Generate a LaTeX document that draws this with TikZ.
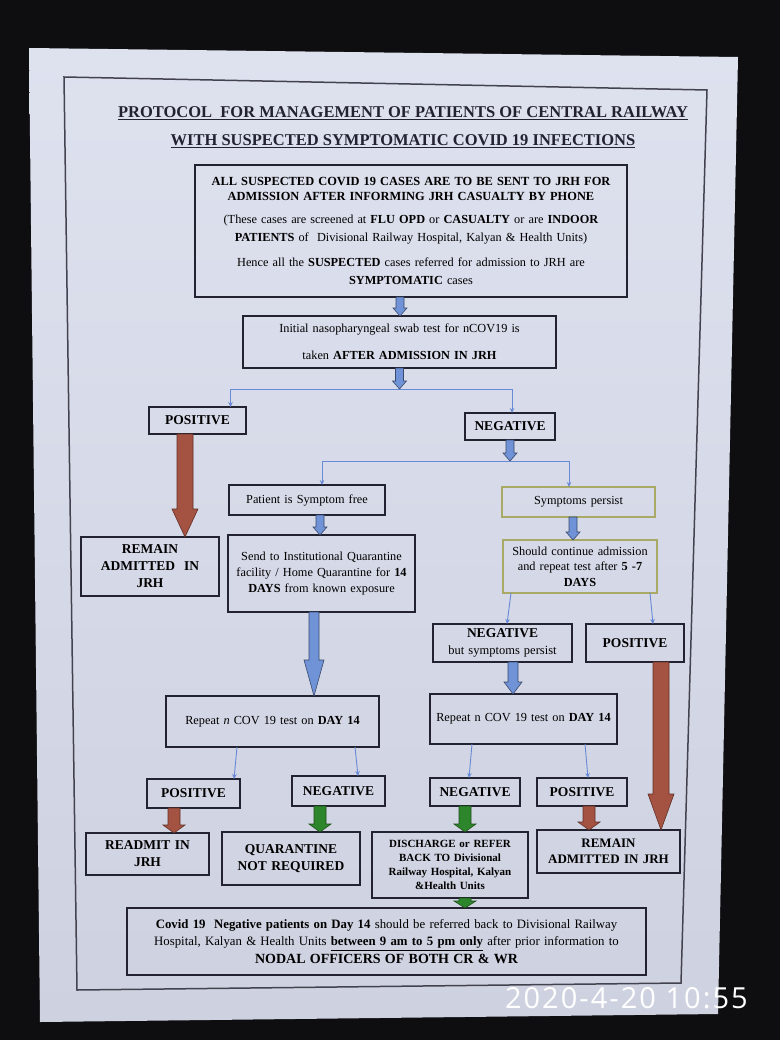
\documentclass[tikz,border=0pt]{standalone}
\usepackage{fontspec}
\setmainfont{Liberation Serif}
\newfontfamily\stampfont[LetterSpace=7]{Open Sans}
\usetikzlibrary{arrows.meta,calc,positioning}

\definecolor{night}{RGB}{14,14,16}
\definecolor{papertop}{RGB}{222,225,238}
\definecolor{paperbot}{RGB}{206,209,224}
\definecolor{ink}{RGB}{34,34,48}
\definecolor{olivebox}{RGB}{168,170,102}
\definecolor{wireblue}{RGB}{104,138,214}
\definecolor{arrblue}{RGB}{112,146,214}
\definecolor{arrbrown}{RGB}{164,82,66}
\definecolor{arrgreen}{RGB}{46,134,44}

\newcommand\fsz[2]{\fontsize{#1}{#2}\selectfont}
\newcommand\uln[1]{\vtop{\hbox{#1}\kern1.2pt\hrule height 1.1pt}}

\tikzset{
	protocol/.style={x=1pt, y=-1pt,
		every node/.style={inner sep=0pt, outer sep=0pt}},
	sz/.style 2 args={minimum width=#1pt, minimum height=#2pt, text width=#1pt},
	box/.style={draw=ink, line width=1.2pt, align=center, font=\fsz{12.3}{16}},
	heavy/.style={box, line width=2.4pt, font=\fsz{13.5}{17}\bfseries},
	tag/.style={box, font=\fsz{13.5}{16}\bfseries},
	persistbox/.style={box, draw=olivebox},
	wire/.style={draw=wireblue, line width=.9pt, -{Stealth[length=5pt,width=4.5pt]}},
	shaft/.store in=\shaftw,
	shaft=4pt,
	head/.store in=\headw,
	head=7pt,
	tip/.store in=\tipl,
	tip=8pt,
	blue arrow/.style={fill=arrblue, draw=arrblue!50!black, line width=.6pt},
	brown arrow/.style={fill=arrbrown, draw=arrbrown!60!black, line width=.6pt},
	green arrow/.style={fill=arrgreen, draw=arrgreen!60!black, line width=.6pt},
	long arrow/.style={shaft=8pt, head=13pt, tip=36pt},
	short arrow/.style={shaft=6pt, head=11pt, tip=8pt}
}
% block arrow straight down from #2 to the level of #3
\newcommand\blockarrow[3][]{%
	\draw[#1] let \p1=(#2), \p2=(#3) in
		(\x1-\shaftw,\y1) -- (\x1-\shaftw,\y2+\tipl) -- (\x1-\headw,\y2+\tipl)
		-- (\x1,\y2) -- (\x1+\headw,\y2+\tipl) -- (\x1+\shaftw,\y2+\tipl)
		-- (\x1+\shaftw,\y1) -- cycle;}

\begin{document}
\begin{tikzpicture}[protocol]
	\useasboundingbox (0,0) rectangle (780,1040);
	\fill[night] (0,0) rectangle (780,1040);
	\shade[top color=papertop, bottom color=paperbot]
		(29,48) -- (738,57) -- (718,1014) -- (40,1022) -- cycle;
	\draw[ink!85, line width=1.5pt] (64,77) -- (707,90) -- (681,983) -- (77,990) -- cycle;

	\node[align=center, text=ink, font=\fsz{16.5}{28}\bfseries] (title) at (403,127)
		{\uln{PROTOCOL\ \ FOR MANAGEMENT OF PATIENTS OF CENTRAL RAILWAY}\\
		 \uln{WITH SUSPECTED SYMPTOMATIC COVID 19 INFECTIONS}};

	\node[box, line width=2pt, sz={432}{132}] (top) at (411,231)
		{{\fsz{12.4}{15}\bfseries ALL SUSPECTED COVID 19 CASES ARE TO BE SENT TO JRH FOR\\
		  ADMISSION AFTER INFORMING JRH CASUALTY BY PHONE\par}\vspace{5pt}
		 {\fsz{12.3}{18}(These cases are screened at \textbf{FLU OPD} or \textbf{CASUALTY} or are \textbf{INDOOR}\\
		  \textbf{PATIENTS} of\ \ Divisional Railway Hospital, Kalyan \& Health Units)\par}\vspace{7pt}
		 {\fsz{12.3}{18}Hence all the \textbf{SUSPECTED} cases referred for admission to JRH are\\
		  \textbf{SYMPTOMATIC} cases\par}};
	\node[box, line width=2pt, sz={313}{52}, font=\fsz{12.3}{27}] (swab) at (399.5,342)
		{Initial nasopharyngeal swab test for nCOV19 is\\ taken \textbf{AFTER ADMISSION IN JRH}};
	\coordinate (split1) at (399,389);

	\node[tag, sz={97}{27}] (pos1) at (197.5,420.5) {POSITIVE};
	\node[tag, sz={90}{27}] (neg1) at (510,426.5) {NEGATIVE};
	\coordinate (split2) at (509,461);

	\node[heavy, sz={138}{59}] (remain1) at (150,566.5) {REMAIN\\ ADMITTED\ \ IN\\ JRH};
	\node[box, sz={156}{30}] (free) at (307,500) {Patient is Symptom free};
	\node[persistbox, sz={153}{30}] (persist) at (578.5,502) {Symptoms persist};
	\node[box, sz={187}{77}] (send) at (321.5,573.5)
		{Send to Institutional Quarantine\\ facility / Home Quarantine for \textbf{14}\\ \textbf{DAYS} from known exposure};
	\node[persistbox, sz={154}{53}, font=\fsz{12.3}{15.5}] (cont) at (580,566.5)
		{Should continue admission\\ and repeat test after \textbf{5 -7}\\ \textbf{DAYS}};
	\node[box, sz={139}{38}] (negbut) at (502.5,643)
		{{\fsz{13.5}{17}\bfseries NEGATIVE\par}{\fsz{12.5}{17}but symptoms persist\par}};
	\node[tag, sz={98}{38}] (pos2) at (635,643) {POSITIVE};

	\node[box, sz={213}{51}] (rep1) at (272.5,721.5) {Repeat \textit{n} COV 19 test on \textbf{DAY 14}};
	\node[box, sz={187}{50}] (rep2) at (523.5,719) {Repeat n COV 19 test on \textbf{DAY 14}};

	\node[tag, sz={93}{29}] (pos3) at (193.5,793.5) {POSITIVE};
	\node[tag, sz={93}{30}] (neg3) at (338.5,791) {NEGATIVE};
	\node[tag, sz={90}{28}] (neg4) at (475,792) {NEGATIVE};
	\node[tag, sz={90}{28}] (pos4) at (582,792) {POSITIVE};

	\node[heavy, sz={123}{42}] (readmit) at (147.5,854) {READMIT IN\\ JRH};
	\node[heavy, sz={138}{53}] (quar) at (291,858.5) {QUARANTINE\\ NOT REQUIRED};
	\node[heavy, sz={156}{66}, font=\fsz{11}{14}\bfseries] (disch) at (450,865)
		{DISCHARGE or REFER\\ BACK TO Divisional\\ Railway Hospital, Kalyan\\ \&Health Units};
	\node[heavy, sz={143}{43}, font=\fsz{13}{16.5}\bfseries] (remain2) at (608.5,851.5) {REMAIN\\ ADMITTED IN JRH};

	\node[box, line width=2pt, sz={519}{67}, font=\fsz{12.8}{17.5}] (bottom) at (386.5,941.5)
		{\textbf{Covid 19\ \ Negative patients on Day 14} should be referred back to Divisional Railway\\
		 Hospital, Kalyan \& Health Units \textbf{\uln{between 9 am to 5 pm only}} after prior information to\par
		 {\fsz{14}{18}\bfseries NODAL OFFICERS OF BOTH CR \& WR\par}};

	% thin branches
	\draw[wire] (split1) -| ([xshift=33pt]pos1.north);
	\draw[wire] (split1) -| ([xshift=2pt]neg1.north);
	\draw[wire] (split2) -| ([xshift=15pt]free.north);
	\draw[wire] (split2) -| ([xshift=-9.5pt]persist.north);
	\draw[wire] ([xshift=-69pt]cont.south) -- ([xshift=4.5pt]negbut.north);
	\draw[wire] ([xshift=70pt]cont.south) -- ([xshift=18pt]pos2.north);
	\draw[wire] ([xshift=-35.5pt]rep1.south) -- ([xshift=40.5pt]pos3.north);
	\draw[wire] ([xshift=82.5pt]rep1.south) -- ([xshift=19.5pt]neg3.north);
	\draw[wire] ([xshift=-51.5pt]rep2.south) -- ([xshift=-6pt]neg4.north);
	\draw[wire] ([xshift=61.5pt]rep2.south) -- ([xshift=6pt]pos4.north);

	% block arrows
	\blockarrow[blue arrow]{[xshift=-11pt]top.south}{swab.north}
	\blockarrow[blue arrow]{swab.south}{split1}
	\blockarrow[blue arrow]{neg1.south}{split2}
	\blockarrow[brown arrow, long arrow, tip=28pt]{[xshift=-12.5pt]pos1.south}{remain1.north}
	\blockarrow[blue arrow]{[xshift=13pt]free.south}{send.north}
	\blockarrow[blue arrow]{[xshift=-5.5pt]persist.south}{cont.north}
	\blockarrow[blue arrow, shaft=5pt, head=10pt, tip=36pt]{[xshift=-7.5pt]send.south}{rep1.north}
	\blockarrow[blue arrow, shaft=5pt, head=9pt, tip=12pt]{[xshift=10.5pt]negbut.south}{rep2.north}
	\blockarrow[brown arrow, long arrow]{[xshift=26pt]pos2.south}{remain2.north}
	\blockarrow[brown arrow, short arrow]{[xshift=-19.5pt]pos3.south}{readmit.north}
	\blockarrow[green arrow, short arrow]{[xshift=-18.5pt]neg3.south}{quar.north}
	\blockarrow[green arrow, short arrow]{[xshift=-10pt]neg4.south}{disch.north}
	\blockarrow[brown arrow, short arrow]{[xshift=7pt]pos4.south}{remain2.north}
	\blockarrow[green arrow, short arrow, tip=7pt]{[xshift=15pt]disch.south}{bottom.north}

	\node[anchor=base west, text=white, font=\stampfont\fsz{29}{30}] (stamp) at (505,1008) {2020-4-20 10:55};
\end{tikzpicture}
\end{document}
